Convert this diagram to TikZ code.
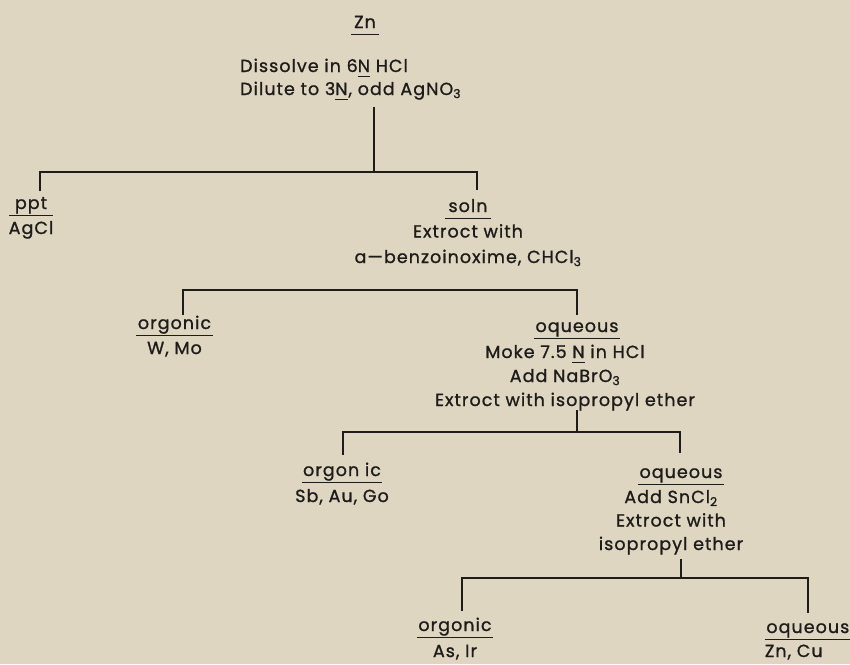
\documentclass[tikz,border=0pt]{standalone}
\usepackage{fontspec}
\setmainfont{Poppins}[LetterSpace=6, FakeBold=1.1]
\definecolor{paper}{RGB}{222,214,193}
\definecolor{ink}{RGB}{30,28,26}
\newcommand\ul[2]{\setbox0\hbox{#2}\dimen0=\wd0 \advance\dimen0 by 3pt\relax
  \ifdim\dimen0<#1\relax \dimen0=#1\relax\fi
  \makebox[\dimen0]{#2}\llap{\rule[-7pt]{\dimen0}{1.3pt}}}
\newcommand\uN{\setbox0\hbox{N}\rlap{\rule[-5pt]{\wd0}{1.2pt}}N}
\tikzset{
  txt/.style={inner sep=0pt, anchor=base, text=ink, font=\fontsize{17.5}{25}\selectfont},
  conn/.style={draw=ink, line width=1.7pt, line cap=butt, line join=miter}
}
\begin{document}
\begin{tikzpicture}[x=1pt,y=-1pt]
\useasboundingbox (0,0) rectangle (850,664);
\fill[paper] (0,0) rectangle (850,664);

% texts
\node[txt] (zn) at (365,28) {\ul{28pt}{Zn}};
\node[txt, anchor=base west, font=\fontsize{17.5}{23}\selectfont] (dissolve) at (240,72)
  {\begin{tabular}[t]{@{}l@{}}Dissolve in 6\uN\ HCl\\Dilute to 3\uN, odd AgNO\textsubscript{3}\end{tabular}};
\node[txt] (ppt) at (31,209) {\begin{tabular}[t]{@{}c@{}}\ul{44pt}{ppt}\\AgCl\end{tabular}};
\node[txt, font=\fontsize{17.5}{25.5}\selectfont] (soln) at (468,212)
  {\begin{tabular}[t]{@{}c@{}}\ul{46pt}{soln}\\Extroct with\\a—benzoinoxime, CHCl\textsubscript{3}\end{tabular}};
\node[txt] (org1) at (174.5,329) {\begin{tabular}[t]{@{}c@{}}\ul{71pt}{orgonic}\\W, Mo\end{tabular}};
\node[txt] (aq1) at (577,332) {\ul{76pt}{oqueous}};
\node[txt, font=\fontsize{17.5}{24}\selectfont] (aq1steps) at (565,358)
  {\begin{tabular}[t]{@{}c@{}}Moke 7.5 \uN\ in HCl\\Add NaBrO\textsubscript{3}\\Extroct with isopropyl ether\end{tabular}};
\node[txt, font=\fontsize{17.5}{26}\selectfont] (org2) at (342,476) {\begin{tabular}[t]{@{}c@{}}\ul{80pt}{orgon ic}\\Sb, Au, Go\end{tabular}};
\node[txt] (aq2) at (681,478) {\ul{76pt}{oqueous}};
\node[txt, font=\fontsize{17.5}{23.5}\selectfont] (aq2steps) at (671,503)
  {\begin{tabular}[t]{@{}c@{}}Add SnCl\textsubscript{2}\\Extroct with\\isopropyl ether\end{tabular}};
\node[txt, font=\fontsize{17.5}{26}\selectfont] (org3) at (455,631) {\begin{tabular}[t]{@{}c@{}}\ul{67pt}{orgonic}\\As, Ir\end{tabular}};
\node[txt, anchor=base east, font=\fontsize{17.5}{24}\selectfont] (aq3) at (851,633) {\begin{tabular}[t]{@{}l@{}}\ul{76pt}{oqueous}\\Zn, Cu\end{tabular}};

% connector coordinates
\coordinate (s1) at (374,107);
\coordinate (j1) at (374,172);
\coordinate (a1) at (40,172);  \coordinate (p1) at (40,191);
\coordinate (b1) at (477,172); \coordinate (q1) at (477,190);

\coordinate (a2) at (183,290); \coordinate (p2) at (183,315);
\coordinate (b2) at (577,290); \coordinate (q2) at (577,315);

\coordinate (s3) at (577,410);
\coordinate (j3) at (577,432);
\coordinate (a3) at (343,432); \coordinate (p3) at (343,455);
\coordinate (b3) at (680,432); \coordinate (q3) at (680,453);

\coordinate (s4) at (681,559);
\coordinate (j4) at (681,578);
\coordinate (a4) at (462,578); \coordinate (p4) at (462,611);
\coordinate (b4) at (808,578); \coordinate (q4) at (808,613);

\draw[conn] (s1) -- (j1);
\draw[conn] (p1) -- (a1) -- (b1) -- (q1);
\draw[conn] (p2) -- (a2) -- (b2) -- (q2);
\draw[conn] (s3) -- (j3);
\draw[conn] (p3) -- (a3) -- (b3) -- (q3);
\draw[conn] (s4) -- (j4);
\draw[conn] (p4) -- (a4) -- (b4) -- (q4);
\end{tikzpicture}
\end{document}
